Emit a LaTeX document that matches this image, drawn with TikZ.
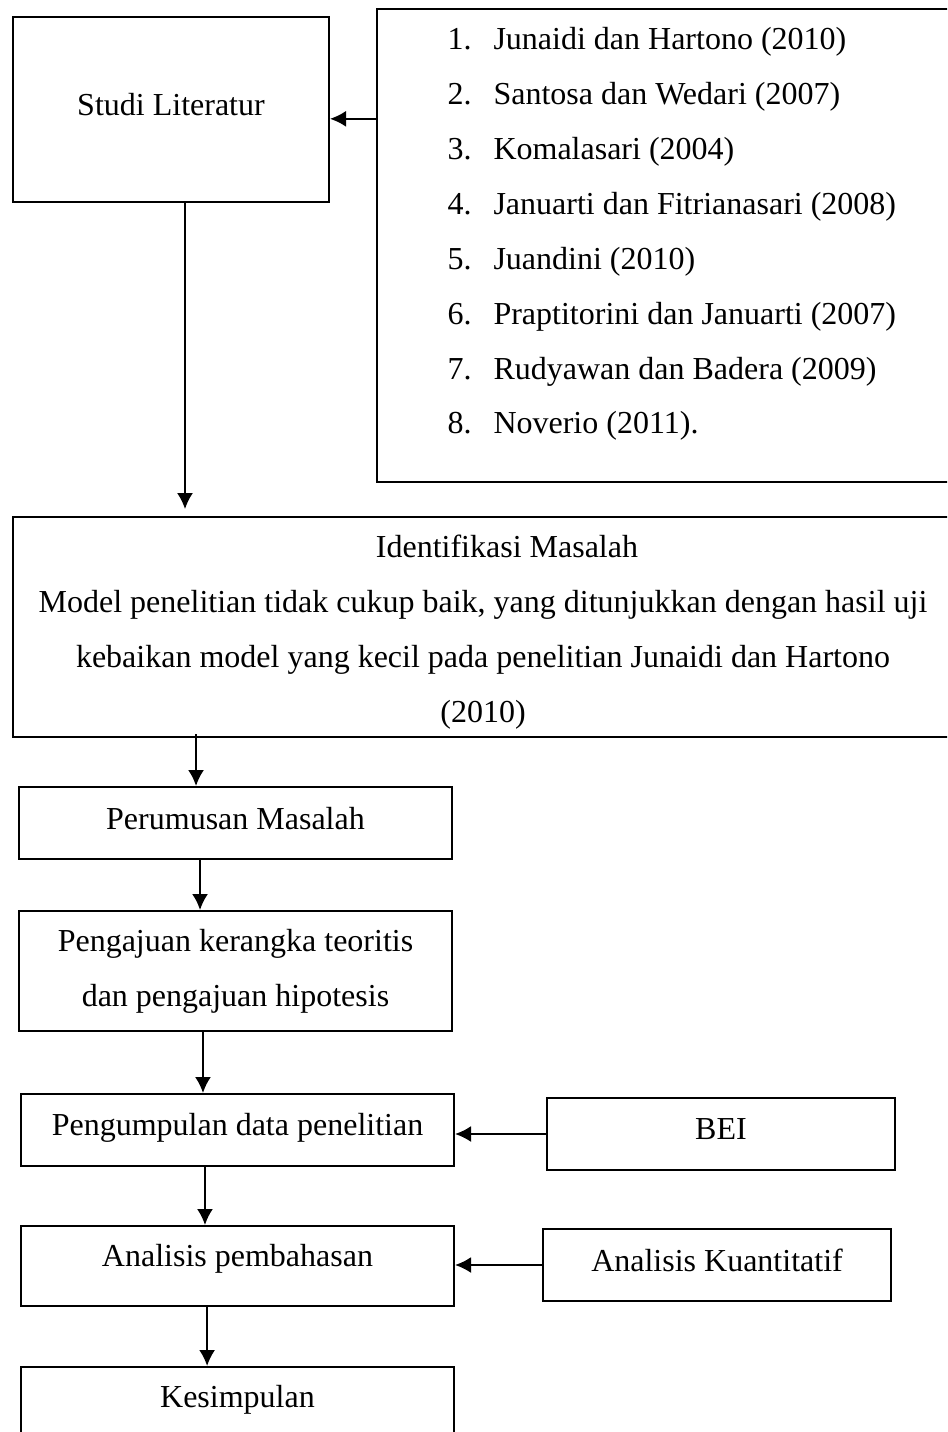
\documentclass[tikz,border=0pt]{standalone}
\usepackage{fontspec}
\setmainfont{Liberation Serif}
\usetikzlibrary{positioning,arrows.meta}
\newcommand{\nomor}[1]{\makebox[17.25pt][l]{#1}}

\begin{document}
\begin{tikzpicture}[
    x=0.375pt, y=-0.375pt,
    font=\fontsize{12pt}{20.6pt}\selectfont,
    panah/.style={%
      -{Latex[length=6pt,width=6pt]},
      line width=0.75pt,
    },
  ]

\tikzstyle{kotak} = [rectangle, draw=black, line width=0.75pt, inner sep=0pt, text centered]

\tikzstyle{teks} = [inner sep=0pt]

\useasboundingbox (0,0) rectangle (947,1432);
\clip (0,0) rectangle (947,1432);

    \node [kotak, minimum width=118.5pt, minimum height=69.4pt, text depth=3.8pt] (A) at (171,109.5) {Studi Literatur};
    \node [kotak, minimum width=233.6pt, minimum height=177.4pt] (B) at (688.5,245.5) {};
    \node [teks, anchor=west, align=left] (B1) at (447,234) {\nomor{1.}Junaidi dan Hartono (2010)\\
      \nomor{2.}Santosa dan Wedari (2007)\\
      \nomor{3.}Komalasari (2004)\\
      \nomor{4.}Januarti dan Fitrianasari (2008)\\
      \nomor{5.}Juandini (2010)\\
      \nomor{6.}Praptitorini dan Januarti (2007)\\
      \nomor{7.}Rudyawan dan Badera (2009)\\
      \nomor{8.}Noverio (2011).};

    \node [kotak, minimum width=370.1pt, minimum height=82.5pt] (C) at (506.5,627) {};
    \node [teks, align=center] (C1) at (483,632.5) {\hspace*{18pt}Identifikasi Masalah\\
      Model penelitian tidak cukup baik, yang ditunjukkan dengan hasil uji\\
      kebaikan model yang kecil pada penelitian Junaidi dan Hartono\\
      (2010)};

    \node [kotak, minimum width=162.4pt, minimum height=27pt, text depth=3.8pt] (D) at (235.5,823) {Perumusan Masalah};
    \node [kotak, minimum width=162.4pt, minimum height=45pt, align=center] (E) at (235.5,971) {Pengajuan kerangka teoritis\\ dan pengajuan hipotesis};
    \node [kotak, minimum width=162.4pt, minimum height=27pt, text depth=4.1pt] (F) at (237.5,1130) {Pengumpulan data penelitian};
    \node [kotak, minimum width=130.5pt, minimum height=27pt, text depth=3.8pt] (G) at (721,1134) {BEI};
    \node [kotak, minimum width=162.4pt, minimum height=30pt, text depth=7.8pt] (H) at (237.5,1266) {Analisis pembahasan};
    \node [kotak, minimum width=130.5pt, minimum height=27pt, text depth=3.8pt] (I) at (717,1265) {Analisis Kuantitatif};
    \node [kotak, minimum width=162.4pt, anchor=north, text height=15pt, text depth=30pt] (J) at (237.5,1366) {Kesimpulan};

    \draw [panah] ([yshift=-3.5pt]B.west |- A.east) -- ([yshift=-3.5pt]A.east);
    \draw [panah, shorten >=2.6pt] ([xshift=5.25pt]A.south) -- ([xshift=5.25pt]A.south |- C.north);
    \draw [panah, shorten <=-1.5pt] ([xshift=-14.8pt]D.north |- C.south) -- ([xshift=-14.8pt]D.north);
    \draw [panah] ([xshift=-13.3pt]D.south) -- ([xshift=-13.3pt]D.south |- E.north);
    \draw [panah] ([xshift=-12.2pt]E.south) -- ([xshift=-12.2pt]E.south |- F.north);
    \draw [panah] (G.west) -- (G.west -| F.east);
    \draw [panah] ([xshift=-12.2pt]F.south) -- ([xshift=-12.2pt]F.south |- H.north);
    \draw [panah] (I.west) -- (I.west -| H.east);
    \draw [panah] ([xshift=-11.4pt]H.south) -- ([xshift=-11.4pt]H.south |- J.north);
\end{tikzpicture}
\end{document}
